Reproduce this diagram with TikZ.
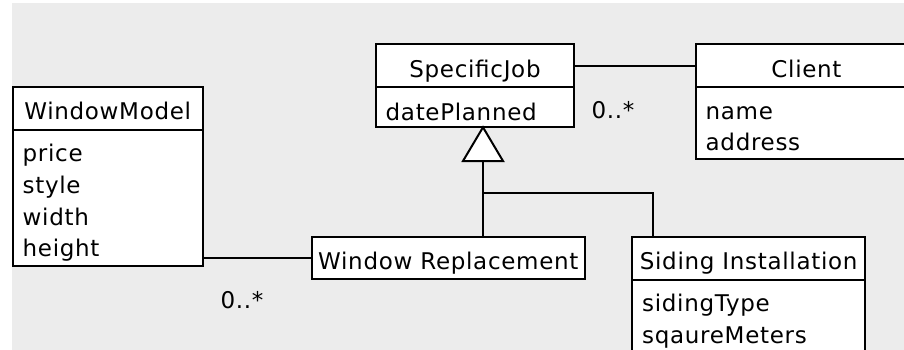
\documentclass[tikz,border=0pt]{standalone}
\usepackage{fontspec}
\newfontfamily\umlfont{DejaVu Sans}[LetterSpace=3]
\definecolor{bgc}{RGB}{236,236,236}
\begin{document}
\begin{tikzpicture}[x=1pt,y=-1pt,
  box/.style={draw, fill=white, line width=2pt, inner sep=0pt, outer sep=0pt, anchor=north west},
  hdr/.style={box, font=\umlfont\fontsize{23}{28}\selectfont, text height=23pt, text depth=0pt},
  attr/.style={anchor=base west, inner sep=0pt, font=\umlfont\fontsize{23}{28}\selectfont},
  mult/.style={anchor=center, inner sep=0pt, font=\umlfont\fontsize{23}{28}\selectfont},
  conn/.style={line width=2pt},
  gen/.style={line width=2pt, fill=white, line join=miter},
]
\useasboundingbox (0,0) rectangle (904,350);
\clip (0,0) rectangle (904,350);
\fill[bgc] (12,3) rectangle (904,350);

% WindowModel
\node[hdr, minimum width=190pt, minimum height=43.3pt] (wmh) at (12.7,86.7) {WindowModel};
\node[box, minimum width=190pt, minimum height=135.7pt] (wmb) at (12.7,130) {};
\node[attr] (wm1) at (22.5,161.7) {price};
\node[attr] (wm2) at (22.5,193.4) {style};
\node[attr] (wm3) at (22.5,225.1) {width};
\node[attr] (wm4) at (22.5,256.8) {height};

% SpecificJob
\node[hdr, minimum width=198.6pt, minimum height=43.3pt] (sjh) at (375.7,44) {SpecificJob};
\node[box, minimum width=198.6pt, minimum height=40pt] (sjb) at (375.7,87.3) {};
\node[attr] (sj1) at (385.5,120.7) {datePlanned};

% Client
\node[hdr, minimum width=221pt, minimum height=43.3pt] (clh) at (696,44) {Client};
\node[box, minimum width=221pt, minimum height=72pt] (clb) at (696,87.3) {};
\node[attr] (cl1) at (705.5,120) {name};
\node[attr] (cl2) at (705.5,150.7) {address};

% Window Replacement
\node[hdr, minimum width=273.4pt, minimum height=42.6pt] (wr) at (311.6,236.7) {Window Replacement};

% Siding Installation
\node[hdr, minimum width=232.7pt, minimum height=43.3pt] (sih) at (632.3,236.7) {Siding Installation};
\node[box, minimum width=232.7pt, minimum height=100pt] (sib) at (632.3,280) {};
\node[attr] (si1) at (642,311.7) {sidingType};
\node[attr] (si2) at (642,343) {sqaureMeters};

% associations
\draw[conn] (sjh.east) -- (sjh.east -| clh.west);
\draw[conn] (wr.west -| wmb.east) -- (wr.west);
\node[mult] (m1) at (613,110) {0..*};
\node[mult] (m2) at (242,300) {0..*};

% generalization
\coordinate (apex) at (483,127.3);
\coordinate (tribase) at (483,161);
\coordinate (junc) at (483,193.3);
\coordinate (sitop) at ([xshift=21pt]sih.north west);
\draw[conn] (tribase) -- (tribase |- wr.north);
\draw[conn] (junc) -| (sitop);
\draw[gen] (apex) -- ++(-20,33.7) -- ++(40,0) -- cycle;
\end{tikzpicture}
\end{document}
